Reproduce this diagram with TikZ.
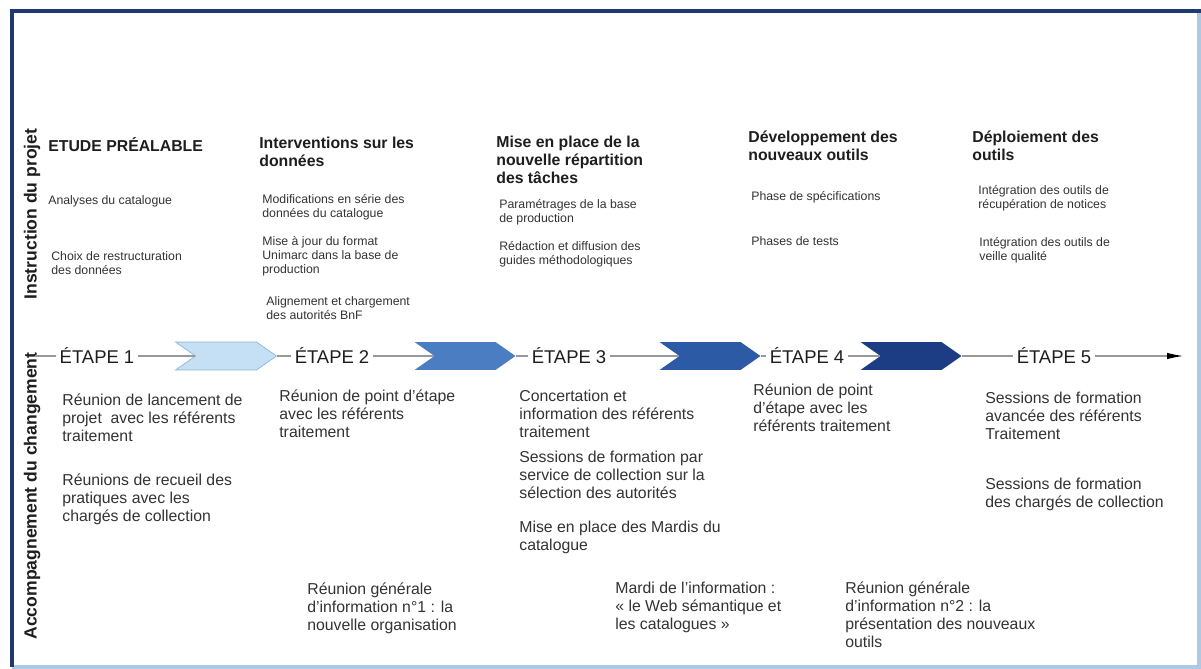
\documentclass[tikz,border=0pt]{standalone}
\usepackage{fontspec}
\setmainfont{Liberation Sans}
\usetikzlibrary{shapes.symbols,arrows.meta}

\definecolor{framenavy}{HTML}{1F3A70}
\definecolor{framelight}{HTML}{AFC9E4}
\definecolor{chevone}{HTML}{C5DFF4}
\definecolor{chevoneedge}{HTML}{8DB7E0}
\definecolor{chevtwo}{HTML}{4B7DC3}
\definecolor{chevthree}{HTML}{2C5AA5}
\definecolor{chevfour}{HTML}{1C3D84}
\definecolor{inkdark}{HTML}{1E1E1E}
\definecolor{inkgrey}{HTML}{333333}

\tikzset{
	head/.style={anchor=north west,inner sep=0pt,align=left,text=inkdark,
		font=\fontsize{9}{10.2}\selectfont\bfseries},
	note/.style={anchor=north west,inner sep=0pt,align=left,text=inkgrey,
		font=\fontsize{7}{8}\selectfont},
	item/.style={anchor=north west,inner sep=0pt,align=left,text=inkgrey,
		font=\fontsize{9}{10.1}\selectfont},
	etape/.style={inner sep=2pt,text=inkdark,font=\fontsize{10.5}{12}\selectfont},
	chevron/.style={signal,signal from=west,signal to=east,signal pointer angle=70,
		minimum width=2.02cm,minimum height=0.56cm,inner sep=0pt},
	band/.style={rotate=90,inner sep=0pt,text=inkdark,
		font=\fontsize{10}{12}\selectfont\bfseries},
	timeline/.style={draw=black!40,line width=0.6pt}
}

\begin{document}
\begin{tikzpicture}[x=0.02cm,y=-0.02cm]
			\useasboundingbox (0,0) rectangle (1201,669);
			\fill[white] (0,0) rectangle (1201,669);

			% frame
			\draw[framelight,line width=2pt] (12,667) -- (1199,667) -- (1199,11);
			\draw[framenavy,line width=2.2pt] (10,11) -- (1201,11);
			\draw[framenavy,line width=2.2pt] (12,10) -- (12,667);

			% side bands
			\node (band1) at (32,214)[band]{Instruction du projet};
			\node (band2) at (32,496)[band]{Accompagnement du changement};

			% headings
			\node (h1) at (48,137)[head]{ETUDE PRÉALABLE};
			\node (h2) at (259,137)[head]{Interventions sur les\\données};
			\node (h3) at (496,136)[head]{Mise en place de la\\nouvelle répartition\\des tâches};
			\node (h4) at (748,131)[head]{Développement des\\nouveaux outils};
			\node (h5) at (972,131)[head]{Déploiement des\\outils};

			% project tasks
			\node (t11) at (48,195)[note]{Analyses du catalogue};
			\node (t12) at (51,251)[note]{Choix de restructuration\\des données};
			\node (t21) at (262,194)[note]{Modifications en série des\\données du catalogue};
			\node (t22) at (262,236)[note]{Mise à jour du format\\Unimarc dans la base de\\production};
			\node (t23) at (266,296)[note]{Alignement et chargement\\des autorités BnF};
			\node (t31) at (499,199)[note]{Paramétrages de la base\\de production};
			\node (t32) at (499,241)[note]{Rédaction et diffusion des\\guides méthodologiques};
			\node (t41) at (751,191)[note]{Phase de spécifications};
			\node (t42) at (751,236)[note]{Phases de tests};
			\node (t51) at (978,185)[note]{Intégration des outils de\\récupération de notices};
			\node (t52) at (979,237)[note]{Intégration des outils de\\veille qualité};

			% timeline
			\coordinate (start) at (35,356);
			\coordinate (tip) at (1183,356);
			\node (e1) at (97,356)[etape]{ÉTAPE 1};
			\node (ch1) at (226,356)[chevron,fill=chevone,draw=chevoneedge,line width=0.4pt]{};
			\node (e2) at (332,356)[etape]{ÉTAPE 2};
			\node (ch2) at (465,356)[chevron,fill=chevtwo]{};
			\node (e3) at (569,356)[etape]{ÉTAPE 3};
			\node (ch3) at (710,356)[chevron,fill=chevthree]{};
			\node (e4) at (807,356)[etape]{ÉTAPE 4};
			\node (ch4) at (911,356)[chevron,fill=chevfour]{};
			\node (e5) at (1054,356)[etape]{ÉTAPE 5};

			\draw[timeline] (start) -- (e1);
			\draw[timeline] (e1) -- (ch1);
			\draw[timeline] (ch1) -- (e2);
			\draw[timeline] (e2) -- (ch2);
			\draw[timeline] (ch2) -- (e3);
			\draw[timeline] (e3) -- (ch3);
			\draw[timeline] (ch3) -- (e4);
			\draw[timeline] (e4) -- (ch4);
			\draw[timeline] (ch4) -- (e5);
			\draw[timeline,-{Latex[black,length=3.2mm,width=1.3mm]}] (e5) -- (tip);

			% change management
			\node (b11) at (62,394)[item]{Réunion de lancement de\\projet\ \ avec les référents\\traitement};
			\node (b12) at (62,474)[item]{Réunions de recueil des\\pratiques avec les\\chargés de collection};
			\node (b21) at (279,390)[item]{Réunion de point d'étape\\avec les référents\\traitement};
			\node (b31) at (519,390)[item]{Concertation et\\information des référents\\traitement};
			\node (b32) at (519,451)[item]{Sessions de formation par\\service de collection sur la\\sélection des autorités};
			\node (b33) at (519,521)[item]{Mise en place des Mardis du\\catalogue};
			\node (b41) at (753,384)[item]{Réunion de point\\d'étape avec les\\référents traitement};
			\node (b51) at (985,392)[item]{Sessions de formation\\avancée des référents\\Traitement};
			\node (b52) at (985,478)[item]{Sessions de formation\\des chargés de collection};

			\node (g1) at (307,583)[item]{Réunion générale\\d'information n°1 : la\\nouvelle organisation};
			\node (g2) at (615,582)[item]{Mardi de l'information :\\« le Web sémantique et\\les catalogues »};
			\node (g3) at (845,582)[item]{Réunion générale\\d'information n°2 : la\\présentation des nouveaux\\outils};
		\end{tikzpicture}
\end{document}
